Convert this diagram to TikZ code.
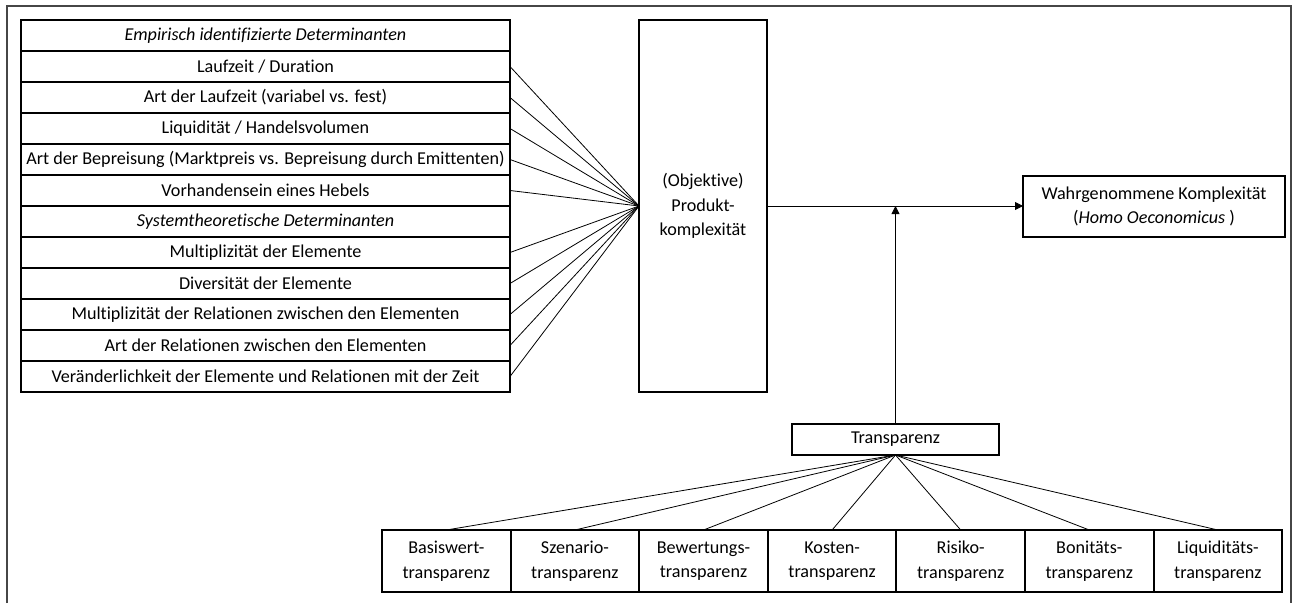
\documentclass[tikz,border=0pt]{standalone}
\usepackage{fontspec}
\setmainfont{Carlito}[Ligatures=NoCommon]
\usetikzlibrary{positioning,arrows.meta}
\tikzset{>={Triangle[length=6pt,width=6pt]}}
\tikzset{
  rowbox/.style={draw, line width=1.5pt, minimum width=366.75pt, minimum height=23.25pt,
    inner sep=0.5pt, outer sep=0pt, font=\fontsize{13.6}{16}\selectfont},
  bigbox/.style={draw, line width=1.5pt, align=center, inner sep=2pt, outer sep=0pt,
    font=\fontsize{13.6}{18.4}\selectfont},
  tbox/.style={bigbox, minimum width=96.45pt, minimum height=46.5pt},
  conn/.style={line width=0.6pt},
  frame/.style={line width=1.4pt, gray!55!black}
}

\begin{document}
\begin{tikzpicture}[x=0.75pt,y=-0.75pt]
    \useasboundingbox (0,0) rectangle (1295,603);
    \draw [frame] (7,603) |- (1291,6) -- (1291,603);

    % Determinanten
    \node [rowbox] (hdEmp) at (265.5,35.5) {\itshape Empirisch identifizierte Determinanten};
    \node [rowbox, below=0pt of hdEmp] (laufzeit) {Laufzeit / Duration};
    \node [rowbox, below=0pt of laufzeit] (artLaufzeit) {Art der Laufzeit (variabel vs. fest)};
    \node [rowbox, below=0pt of artLaufzeit] (liquiditaet) {Liquidität / Handelsvolumen};
    \node [rowbox, below=0pt of liquiditaet] (bepreisung) {Art der Bepreisung (Marktpreis vs. Bepreisung durch Emittenten)};
    \node [rowbox, below=0pt of bepreisung] (hebel) {Vorhandensein eines Hebels};
    \node [rowbox, below=0pt of hebel] (hdSys) {\itshape Systemtheoretische Determinanten};
    \node [rowbox, below=0pt of hdSys] (multElem) {Multiplizität der Elemente};
    \node [rowbox, below=0pt of multElem] (divElem) {Diversität der Elemente};
    \node [rowbox, below=0pt of divElem] (multRel) {Multiplizität der Relationen zwischen den Elementen};
    \node [rowbox, below=0pt of multRel] (artRel) {Art der Relationen zwischen den Elementen};
    \node [rowbox, below=0pt of artRel] (veraend) {Veränderlichkeit der Elemente und Relationen mit der Zeit};

    \node [bigbox, minimum width=96pt, minimum height=279pt] (pk) at (703,206) {(Objektive)\\Produkt-\\komplexität};
    \node [bigbox, minimum width=196.5pt, minimum height=45.75pt] (wk) at (1154,206.5)
        {Wahrgenommene Komplexität\\(\textit{Homo Oeconomicus} )};
    \node [bigbox, minimum width=155.25pt, minimum height=23.25pt] (transp) at (895.5,439.5) {Transparenz};

    % Transparenzarten
    \node [tbox] (basisw) at (446.3,561) {Basiswert-\\transparenz};
    \node [tbox, right=0pt of basisw] (szenario) {Szenario-\\transparenz};
    \node [tbox, right=0pt of szenario] (bewertung) {Bewertungs-\\transparenz};
    \node [tbox, right=0pt of bewertung] (kosten) {Kosten-\\transparenz};
    \node [tbox, right=0pt of kosten] (risiko) {Risiko-\\transparenz};
    \node [tbox, right=0pt of risiko] (bonitaet) {Bonitäts-\\transparenz};
    \node [tbox, right=0pt of bonitaet] (liquid) {Liquiditäts-\\transparenz};

    \foreach \n in {laufzeit,artLaufzeit,liquiditaet,bepreisung,hebel,multElem,divElem,multRel,artRel,veraend}
      \draw [conn] (\n.east) -- (pk.west);
    \foreach \n in {basisw,szenario,bewertung,kosten,risiko,bonitaet,liquid}
      \draw [conn] (\n.north) -- (transp.south);

    \draw [conn, ->] (pk.east) -- (pk.east -| wk.west);
    \draw [conn, ->] (transp.north) -- (transp.north |- pk.east);
\end{tikzpicture}
\end{document}
